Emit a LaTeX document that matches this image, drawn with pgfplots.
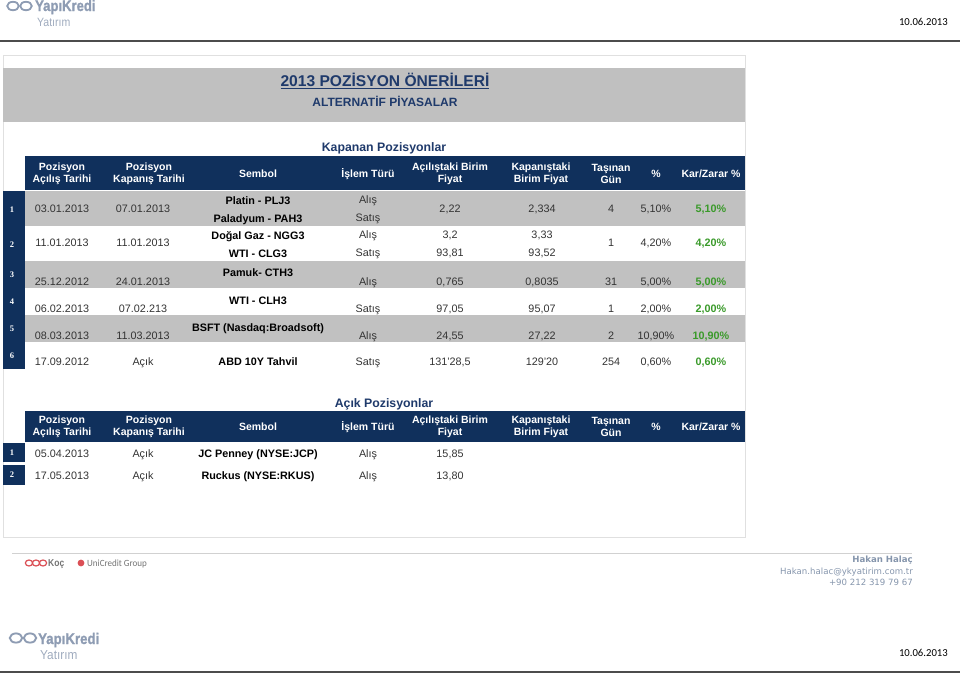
\documentclass[border=0pt]{standalone}
\usepackage{pgfplots}
\pgfplotsset{compat=1.18}
\usepackage{fontspec}
\setmainfont{Liberation Sans}
\newfontfamily\calibri{Carlito}
\newfontfamily\verd{DejaVu Sans}
\newfontfamily\logofont{Liberation Sans Bold}[FakeBold=1.4]
\newfontfamily\serifb{Liberation Serif Bold}
\definecolor{navy}{HTML}{10305C}
\definecolor{titleblue}{HTML}{1F3A6B}
\definecolor{rowgray}{HTML}{C1C1C1}
\definecolor{bandgray}{HTML}{C0C0C0}
\definecolor{bodytext}{HTML}{333333}
\definecolor{gain}{HTML}{3A9A2A}
\definecolor{logo}{HTML}{8E9CB3}
\definecolor{foot}{HTML}{8595AC}
\definecolor{kocred}{HTML}{D2232A}
\tikzset{tx/.style={inner sep=0pt, text height=0.72em, text depth=0.02em}}
\newcommand\fs[1]{\fontsize{#1}{#1}\selectfont}
\newcommand\bt[3]{\node[tx,font=\fs{10.8},text=bodytext] at (axis cs:#1,#2) {#3};}
\newcommand\bb[3]{\node[tx,font=\bfseries\fs{10.8},text=black] at (axis cs:#1,#2) {#3};}
\newcommand\gn[3]{\node[tx,font=\bfseries\fs{10.8},text=gain] at (axis cs:#1,#2) {#3};}
\newcommand\hd[3]{\node[font=\bfseries\fs{10.5},text=white,inner sep=0pt,align=center] at (axis cs:#1,#2) {#3};}
\newcommand\ix[2]{\node[tx,font=\serifb\fs{8.5},text=white] at (axis cs:12,#2) {#1};}
\begin{document}
\begin{tikzpicture}
\begin{axis}[scale only axis, width=960pt, height=675pt,
  xmin=0, xmax=960, ymin=0, ymax=675, y dir=reverse, hide axis, clip=false]
% top logo
\draw[logo, line width=1.8pt] (axis cs:13,6) ellipse[x radius=5.8, y radius=4.2];
\draw[logo, line width=1.8pt] (axis cs:26,6) ellipse[x radius=5.8, y radius=4.2];
\node[font=\logofont\fs{15.4}, text=logo, xscale=0.85, anchor=base west, inner sep=0pt] at (axis cs:35,11) {YapıKredi};
\node[font=\fs{12}, text=logo!85, xscale=0.88, anchor=base west, inner sep=0pt] at (axis cs:37,26) {Yatırım};
\node[tx,font=\calibri\fs{10.7}, text=black, anchor=east] at (axis cs:948,22) {10.06.2013};
\draw[black!70, line width=1.6pt] (axis cs:0,41) -- (axis cs:960,41);
% slide frame
\draw[black!12, line width=0.6pt] (axis cs:3,55) rectangle (axis cs:745,537);
\fill[bandgray] (axis cs:3,68) rectangle (axis cs:745,122);
\node[tx,font=\bfseries\fs{15.6}, text=titleblue] at (axis cs:385,83) {\underline{2013 POZİSYON ÖNERİLERİ}};
\node[tx,font=\bfseries\fs{12}, text=titleblue] at (axis cs:385,103) {ALTERNATİF PİYASALAR};
% ---------- Kapanan Pozisyonlar ----------
\node[tx,font=\bfseries\fs{12.3}, text=titleblue] at (axis cs:384,148) {Kapanan Pozisyonlar};
\fill[navy] (axis cs:25,156) rectangle (axis cs:745,190);
\hd{62}{174}{Pozisyon\\[1pt]Açılış Tarihi}
\hd{149}{174}{Pozisyon\\[1pt]Kapanış Tarihi}
\hd{258}{174}{Sembol}
\hd{368}{174}{İşlem Türü}
\hd{450}{174}{Açılıştaki Birim\\[1pt]Fiyat}
\hd{541}{174}{Kapanıştaki\\[1pt]Birim Fiyat}
\hd{611}{174}{Taşınan\\[1pt]Gün}
\hd{656}{174}{\%}
\hd{711}{174}{Kar/Zarar \%}
% row backgrounds
\fill[rowgray] (axis cs:25,191) rectangle (axis cs:745,226);
\fill[rowgray] (axis cs:25,261) rectangle (axis cs:745,288);
\fill[rowgray] (axis cs:25,315) rectangle (axis cs:745,342);
\fill[navy] (axis cs:3,191) rectangle (axis cs:25,369);
\ix{1}{209} \ix{2}{244} \ix{3}{274} \ix{4}{301} \ix{5}{328} \ix{6}{355}
% row 1
\bt{62}{209}{03.01.2013} \bt{143}{209}{07.01.2013}
\bb{258}{201}{Platin - PLJ3} \bb{258}{219}{Paladyum - PAH3}
\bt{368}{200}{Alış} \bt{368}{218}{Satış}
\bt{450}{209}{2,22} \bt{542}{209}{2,334} \bt{611}{209}{4} \bt{656}{209}{5,10\%} \gn{711}{209}{5,10\%}
% row 2
\bt{62}{243}{11.01.2013} \bt{143}{243}{11.01.2013}
\bb{258}{236}{Doğal Gaz - NGG3} \bb{258}{254}{WTI - CLG3}
\bt{368}{235}{Alış} \bt{368}{253}{Satış}
\bt{450}{235}{3,2} \bt{450}{253}{93,81} \bt{542}{235}{3,33} \bt{542}{253}{93,52}
\bt{611}{243}{1} \bt{656}{243}{4,20\%} \gn{711}{243}{4,20\%}
% row 3
\bt{62}{282}{25.12.2012} \bt{143}{282}{24.01.2013}
\bb{258}{273}{Pamuk- CTH3} \bt{368}{282}{Alış}
\bt{450}{282}{0,765} \bt{542}{282}{0,8035} \bt{611}{282}{31} \bt{656}{282}{5,00\%} \gn{711}{282}{5,00\%}
% row 4
\bt{62}{309}{06.02.2013} \bt{143}{309}{07.02.213}
\bb{258}{301}{WTI - CLH3} \bt{368}{309}{Satış}
\bt{450}{309}{97,05} \bt{542}{309}{95,07} \bt{611}{309}{1} \bt{656}{309}{2,00\%} \gn{711}{309}{2,00\%}
% row 5
\bt{62}{336}{08.03.2013} \bt{143}{336}{11.03.2013}
\bb{258}{328}{BSFT (Nasdaq:Broadsoft)} \bt{368}{336}{Alış}
\bt{450}{336}{24,55} \bt{542}{336}{27,22} \bt{611}{336}{2} \bt{656}{336}{10,90\%} \gn{711}{336}{10,90\%}
% row 6
\bt{62}{362}{17.09.2012} \bt{143}{362}{Açık}
\bb{258}{362}{ABD 10Y Tahvil} \bt{368}{362}{Satış}
\bt{450}{362}{131'28,5} \bt{542}{362}{129'20} \bt{611}{362}{254} \bt{656}{362}{0,60\%} \gn{711}{362}{0,60\%}
% ---------- Açık Pozisyonlar ----------
\node[tx,font=\bfseries\fs{12.3}, text=titleblue] at (axis cs:384,404) {Açık Pozisyonlar};
\fill[navy] (axis cs:25,411) rectangle (axis cs:745,442);
\hd{62}{427}{Pozisyon\\[1pt]Açılış Tarihi}
\hd{149}{427}{Pozisyon\\[1pt]Kapanış Tarihi}
\hd{258}{427}{Sembol}
\hd{368}{427}{İşlem Türü}
\hd{450}{427}{Açılıştaki Birim\\[1pt]Fiyat}
\hd{541}{427}{Kapanıştaki\\[1pt]Birim Fiyat}
\hd{611}{427}{Taşınan\\[1pt]Gün}
\hd{656}{427}{\%}
\hd{711}{427}{Kar/Zarar \%}
\fill[navy] (axis cs:3,443) rectangle (axis cs:25,462);
\fill[navy] (axis cs:3,465) rectangle (axis cs:25,485);
\ix{1}{452} \ix{2}{474}
\bt{62}{454}{05.04.2013} \bt{143}{454}{Açık} \bb{258}{454}{JC Penney (NYSE:JCP)} \bt{368}{454}{Alış} \bt{450}{454}{15,85}
\bt{62}{476}{17.05.2013} \bt{143}{476}{Açık} \bb{258}{476}{Ruckus (NYSE:RKUS)} \bt{368}{476}{Alış} \bt{450}{476}{13,80}
% ---------- footer ----------
\draw[black!18, line width=0.8pt] (axis cs:12,553) -- (axis cs:912,553);
\draw[kocred!80, line width=1.2pt] (axis cs:29,563) ellipse[x radius=3.6, y radius=3];
\draw[kocred!80, line width=1.2pt] (axis cs:36,563) ellipse[x radius=3.6, y radius=3];
\draw[kocred!80, line width=1.2pt] (axis cs:43,563) ellipse[x radius=3.6, y radius=3];
\node[tx,font=\bfseries\fs{10}, text=black!55, xscale=0.85, anchor=west] at (axis cs:48,563) {Koç};
\fill[kocred!80] (axis cs:81,563) circle[radius=3.4];
\node[tx,font=\calibri\fs{9.5}, text=black!55, xscale=0.95, anchor=west] at (axis cs:87,563) {UniCredit Group};
\node[tx,font=\verd\bfseries\fs{8.6}, text=foot, anchor=east] at (axis cs:913,559) {Hakan Halaç};
\node[tx,font=\verd\fs{8.6}, text=foot, anchor=east] at (axis cs:913,571) {Hakan.halac@ykyatirim.com.tr};
\node[tx,font=\verd\fs{8.6}, text=foot, anchor=east] at (axis cs:913,582) {+90 212 319 79 67};
\draw[logo, line width=1.9pt] (axis cs:16,638) ellipse[x radius=6.2, y radius=4.6];
\draw[logo, line width=1.9pt] (axis cs:30,638) ellipse[x radius=6.2, y radius=4.6];
\node[font=\logofont\fs{15.4}, text=logo, xscale=0.86, anchor=base west, inner sep=0pt] at (axis cs:38,644) {YapıKredi};
\node[font=\fs{13}, text=logo!85, xscale=0.91, anchor=base west, inner sep=0pt] at (axis cs:40,659) {Yatırım};
\node[tx,font=\calibri\fs{10.7}, text=black, anchor=east] at (axis cs:948,653) {10.06.2013};
\draw[black!70, line width=1.6pt] (axis cs:0,672) -- (axis cs:960,672);
\end{axis}
\pgfresetboundingbox
\path[use as bounding box] (current axis.south west) rectangle (current axis.north east);
\end{tikzpicture}
\end{document}
